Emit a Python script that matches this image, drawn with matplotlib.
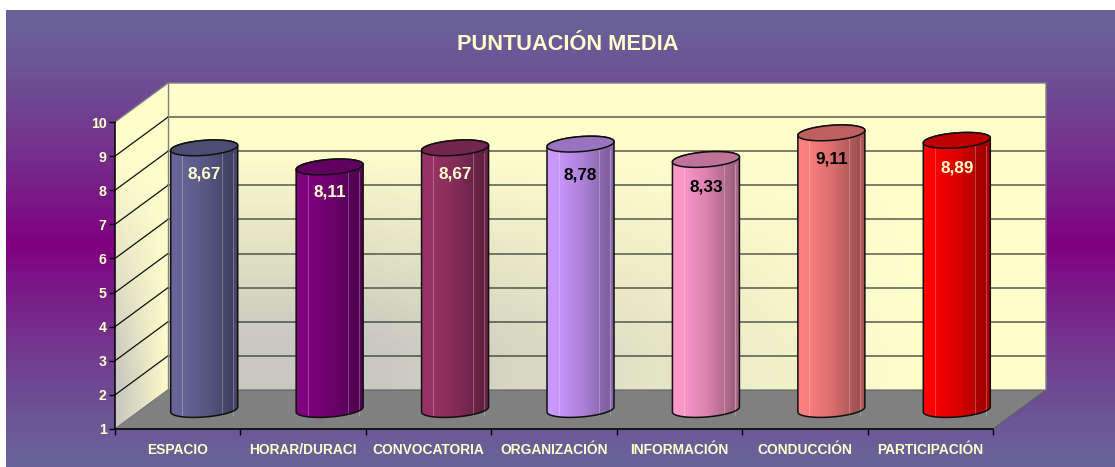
import numpy as np
import matplotlib
matplotlib.use('Agg')
import matplotlib.pyplot as plt
from matplotlib.colors import to_rgb
from matplotlib.patches import Polygon

plt.rcParams['font.family'] = ['Liberation Sans', 'DejaVu Sans']

categories = ['ESPACIO', 'HORAR/DURACI', 'CONVOCATORIA', 'ORGANIZACIÓN',
              'INFORMACIÓN', 'CONDUCCIÓN', 'PARTICIPACIÓN']
values = [8.67, 8.11, 8.67, 8.78, 8.33, 9.11, 8.89]
value_labels = ['8,67', '8,11', '8,67', '8,78', '8,33', '9,11', '8,89']
bar_colors = ['#666699', '#800080', '#993366', '#CC99FF', '#FF99CC', '#FF8080', '#FF0000']
label_colors = ['#FFFFCC', '#FFFFCC', '#FFFFCC', 'black', 'black', 'black', '#FFFFCC']
label_drop = [26, 25, 26, 31, 28, 26, 28]
y_ticks = [1, 2, 3, 4, 5, 6, 7, 8, 9, 10]

W, H = 1115, 467
CREAM = '#FFFFCC'
BG_EDGE = np.array(to_rgb('#69639A'))
BG_MID = np.array(to_rgb('#800080'))
WALL_GRAY = np.array(to_rgb('#C8C8C0'))
WALL_YELLOW = np.array(to_rgb(CREAM))

# front plane of the fake 3d box, in pixels
LEFT, RIGHT, BOTTOM, TOP = 115, 993, 429, 122

fig = plt.figure(figsize=(W / 100, H / 100), dpi=100, facecolor='white')

# background gradient, strongest at pixel row 243
bg = fig.add_axes([6 / W, 0, 1 - 6 / W, 1 - 10 / H])
bg.axis('off')
rows = np.arange(10, H)
t = np.where(rows < 243, (rows - 10) / 233, (H - rows) / (H - 243))
t = (t ** 1.3)[:, None, None]
bg.imshow(BG_EDGE + (BG_MID - BG_EDGE) * t, aspect='auto')

ax = fig.add_axes([LEFT / W, 1 - BOTTOM / H, (RIGHT - LEFT) / W, (BOTTOM - TOP) / H])
ax.patch.set_alpha(0)
x0, x1 = -0.5, len(categories) - 0.5
y0, y1 = 1, 10
ax.set_xlim(x0, x1)
ax.set_ylim(y0, y1)

# pixel to data scale
px_x = (x1 - x0) / (RIGHT - LEFT)
px_y = (y1 - y0) / (BOTTOM - TOP)
dx = 53 * px_x
dy = 39 * px_y


def wall_image(poly, extent, gray):
    img = WALL_YELLOW + (WALL_GRAY - WALL_YELLOW) * gray[:, :, None]
    im = ax.imshow(img, extent=extent, origin='lower', aspect='auto', zorder=1)
    patch = Polygon(poly, closed=True, transform=ax.transData, fc='none', ec='none', clip_on=False)
    ax.add_patch(patch)
    im.set_clip_box(fig.bbox)
    im.set_clip_path(patch)


def height_fade(yf):
    return np.clip(1 - (yf - 0.15) / 0.65, 0, 1)


# back wall
xf, yf = np.meshgrid(np.linspace(0, 1, 300), np.linspace(0, 1, 200))
gray = np.clip((0.86 - xf) / 0.63, 0, 1) * height_fade(yf)
wall_image([(x0 + dx, y0 + dy), (x1 + dx, y0 + dy), (x1 + dx, y1 + dy), (x0 + dx, y1 + dy)],
           (x0 + dx, x1 + dx, y0 + dy, y1 + dy), gray)

# left wall
xf, yf = np.meshgrid(np.linspace(0, 1, 60), np.linspace(0, 1, 200))
gray = np.clip(1.05 - xf, 0, 1) * height_fade(yf)
wall_image([(x0, y0), (x0 + dx, y0 + dy), (x0 + dx, y1 + dy), (x0, y1)],
           (x0, x0 + dx, y0, y1 + dy), gray)

# floor
ax.add_patch(Polygon([(x0, y0), (x1, y0), (x1 + dx, y0 + dy), (x0 + dx, y0 + dy)],
                     closed=True, fc='#808080', ec='#606060', lw=0.8, zorder=2, clip_on=False))

# gridlines
for v in y_ticks[1:-1]:
    ax.plot([x0, x0 + dx], [v, v + dy], color='#101010', lw=0.9, zorder=3, clip_on=False)
    ax.plot([x0 + dx, x1 + dx], [v + dy, v + dy], color='#303030', lw=1.1, alpha=0.8,
            zorder=3, clip_on=False)
# box edges
ax.plot([x0, x0 + dx, x1 + dx, x1 + dx], [y1, y1 + dy, y1 + dy, y0 + dy],
        color='#808080', lw=1, zorder=3, clip_on=False)
ax.plot([x0 + dx, x0 + dx], [y0 + dy, y1 + dy], color='#808080', lw=1, zorder=3, clip_on=False)
ax.plot([x0, x0 + dx], [y0, y0 + dy], color='#808080', lw=1, zorder=3, clip_on=False)

# cylinders
a = 33.5 * px_x
b = 7.5 * px_y
tilt = 2.5 * px_y
u = np.linspace(0, 1, 120)
for i, (v, col) in enumerate(zip(values, bar_colors)):
    xc = i + dx / 2
    yc_bot = y0 + dy / 2
    yc_top = v + dy / 2
    base = np.array(to_rgb(col))
    shade = np.interp(u, [0, 0.18, 0.55, 0.93, 0.95, 1], [1, 0.98, 0.84, 0.62, 0.72, 0.62])
    grad = (base[None, :] * shade[:, None])[None, :, :]
    im = ax.imshow(grad, extent=(xc - a, xc + a, yc_bot - 2 * b, yc_top + 2 * b),
                   origin='lower', aspect='auto', zorder=5 + i)
    th = np.linspace(np.pi, 2 * np.pi, 60)
    low = np.c_[xc + a * np.cos(th), yc_bot + b * np.sin(th) + tilt * np.cos(th)]
    th2 = np.linspace(0, np.pi, 60)
    up = np.c_[xc + a * np.cos(th2), yc_top + b * np.sin(th2) + tilt * np.cos(th2)]
    body = Polygon(np.r_[low, up], closed=True, fc='none', ec='#101010', lw=1.1,
                   zorder=5.3 + i, clip_on=False)
    ax.add_patch(body)
    im.set_clip_box(fig.bbox)
    im.set_clip_path(body)
    # thin highlights on the side of the cylinder
    for off in (-22 * px_x, 18 * px_x, 29 * px_x):
        ax.plot([xc + off, xc + off], [yc_bot - 5.5 * px_y, yc_top - 5.5 * px_y],
                color='white', lw=0.6, alpha=0.3, zorder=5.2 + i, clip_on=False)
    th3 = np.linspace(0, 2 * np.pi, 120)
    ax.add_patch(Polygon(np.c_[xc + a * np.cos(th3), yc_top + b * np.sin(th3) + tilt * np.cos(th3)],
                         closed=True, fc=base * 0.75, ec='#101010', lw=1.1,
                         zorder=5.5 + i, clip_on=False))
    ax.text(xc, yc_top - label_drop[i] * px_y, value_labels[i], ha='center', va='center',
            fontsize=12.3, fontweight='bold', color=label_colors[i], zorder=5.6 + i)

ax.set_xlim(x0, x1)
ax.set_ylim(y0, y1)

# axes
for s in ('top', 'right'):
    ax.spines[s].set_visible(False)
for s in ('left', 'bottom'):
    ax.spines[s].set_color('black')
    ax.spines[s].set_linewidth(1.1)
    ax.spines[s].set_zorder(20)
ax.set_yticks(y_ticks)
ax.set_yticklabels([str(v) for v in y_ticks])
ax.set_xticks(np.arange(x0, x1 + 0.5))
ax.set_xticklabels([])
ax.set_xticks(np.arange(len(categories)), labels=categories, minor=True)
ax.tick_params(axis='y', length=4, width=1, color='black', labelcolor=CREAM, labelsize=10.2, pad=2)
for lab in ax.get_yticklabels():
    lab.set_fontweight('bold')
ax.tick_params(axis='x', which='major', length=4, width=1, color='black')
ax.tick_params(axis='x', which='minor', length=0, labelcolor=CREAM, labelsize=9.9, pad=10)
for lab in ax.get_xticklabels(minor=True):
    lab.set_fontweight('bold')

fig.text(568 / W, 1 - 44 / H, 'PUNTUACIÓN MEDIA', ha='center', va='center',
         fontsize=15.7, fontweight='bold', color=CREAM)

fig.savefig('out.png', dpi=100)
